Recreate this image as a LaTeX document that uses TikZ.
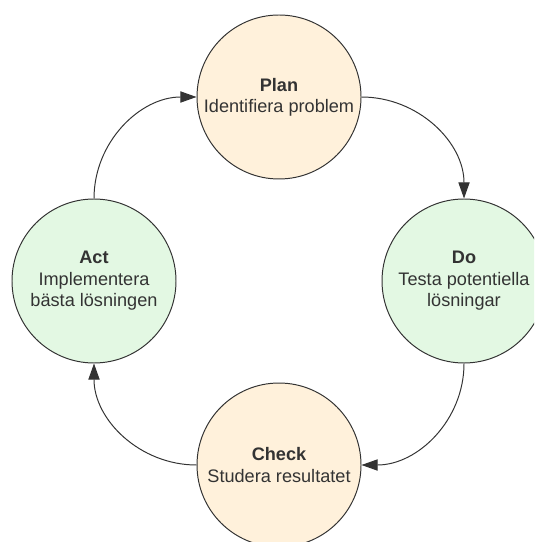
\documentclass[tikz,border=0pt]{standalone}
\usepackage{fontspec}
\setmainfont{Liberation Sans}
\usepackage{xcolor}
\usepackage{tikz}
\usetikzlibrary{arrows.meta,positioning}
\definecolor{pdpeach}{RGB}{255,241,219}
\definecolor{pdgreen}{RGB}{227,248,227}
\definecolor{pdline}{RGB}{51,51,51}
\tikzset{
  pdnode/.style={circle, draw=pdline, line width=0.7pt, minimum size=4.1cm,
    inner sep=0pt, align=center, text=pdline,
    font=\fontsize{12.9pt}{15.2pt}\selectfont},
  pdarrow/.style={-{Triangle[length=11.5pt,width=8pt]}, line width=0.7pt, draw=pdline}
}

\begin{document}
\begin{tikzpicture}
  \useasboundingbox (0cm,0cm) rectangle (13.35cm,-13.55cm);
  \clip (0cm,0cm) rectangle (13.35cm,-13.55cm);
  \node[pdnode, fill=pdpeach] (mPlan) at (6.975cm,-2.425cm) {\textbf{Plan}\\Identifiera problem};
  \node[pdnode, fill=pdgreen] (mDo) at (11.60cm,-7.025cm) {\textbf{Do}\\Testa potentiella\\lösningar};
  \node[pdnode, fill=pdpeach] (mCheck) at (6.975cm,-11.625cm) {\textbf{Check}\\Studera resultatet};
  \node[pdnode, fill=pdgreen] (mAct) at (2.35cm,-7.025cm) {\textbf{Act}\\Implementera\\bästa lösningen};
  \draw[pdarrow] (mPlan.east) to[out=0, in=90] (mDo.north);
  \draw[pdarrow] (mDo.south) to[out=-90, in=0] (mCheck.east);
  \draw[pdarrow] (mCheck.west) to[out=180, in=-90] (mAct.south);
  \draw[pdarrow] (mAct.north) to[out=90, in=180] (mPlan.west);
\end{tikzpicture}
\end{document}
